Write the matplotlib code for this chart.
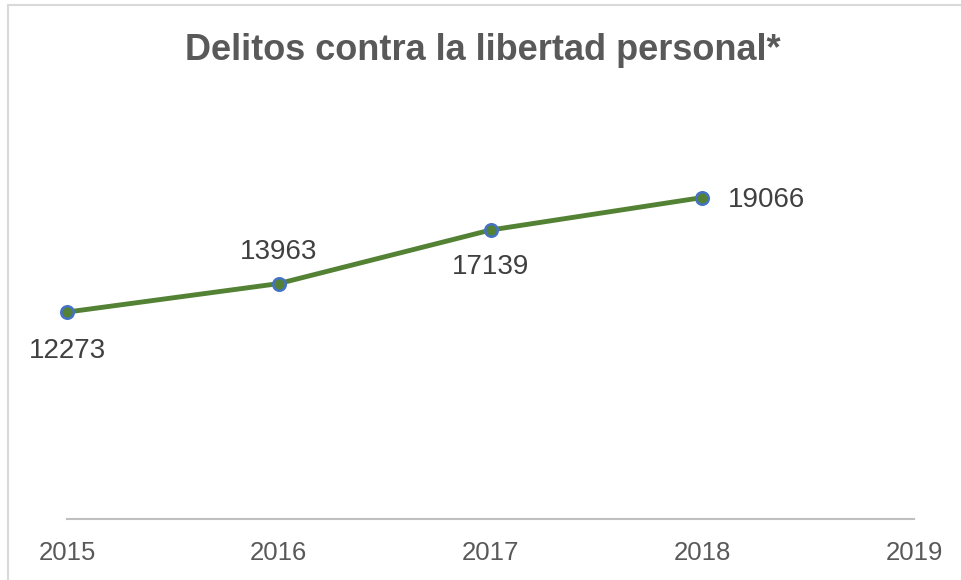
import matplotlib.pyplot as plt
from matplotlib.lines import Line2D

# Data
years = ['2015', '2016', '2017', '2018', '2019']
values = [12273, 13963, 17139, 19066]
title = 'Delitos contra la libertad personal*'

# label offsets in pixels (dx, dy) and alignment, per point
label_pos = [(0, -39, 'center'), (0, 32, 'center'), (0, -37, 'center'), (26, -2, 'left')]

plt.rcParams['font.family'] = ['Liberation Sans', 'DejaVu Sans']

fig = plt.figure(figsize=(9.61, 5.8), dpi=100)
ax = fig.add_axes([67 / 961, 61 / 580, 847 / 961, 421.5 / 580])

x = list(range(len(values)))
ax.plot(x, values, color='#548235', linewidth=3.5, marker='o', markersize=9,
        markerfacecolor='#548235', markeredgecolor='#4472C4', markeredgewidth=1.8,
        solid_capstyle='round', zorder=3, clip_on=False)

for xi, v, (dx, dy, ha) in zip(x, values, label_pos):
    ax.annotate(str(v), (xi, v), xytext=(dx * 0.72, dy * 0.72), textcoords='offset points',
                ha=ha, va='center', fontsize=20, color='#404040')

ax.set_xlim(0, len(years) - 1)
ax.set_ylim(0, 25000)
ax.set_xticks(range(len(years)))
ax.set_xticklabels(years, fontsize=18.5, color='#595959')
ax.tick_params(axis='x', length=0, pad=16)
ax.set_yticks([])
for s in ['top', 'right', 'left']:
    ax.spines[s].set_visible(False)
ax.spines['bottom'].set_color('#BFBFBF')
ax.spines['bottom'].set_linewidth(1.5)

fig.text(483 / 961, 1 - 51 / 580, title, ha='center', va='center',
         fontsize=26, fontweight='bold', color='#595959')

# chart border (top and left edges visible)
fig.add_artist(Line2D([8 / 961, 1], [1 - 5 / 580, 1 - 5 / 580], color='#D9D9D9', linewidth=1.5))
fig.add_artist(Line2D([8 / 961, 8 / 961], [0, 1 - 5 / 580], color='#D9D9D9', linewidth=1.5))

fig.savefig('out.png', dpi=100)
